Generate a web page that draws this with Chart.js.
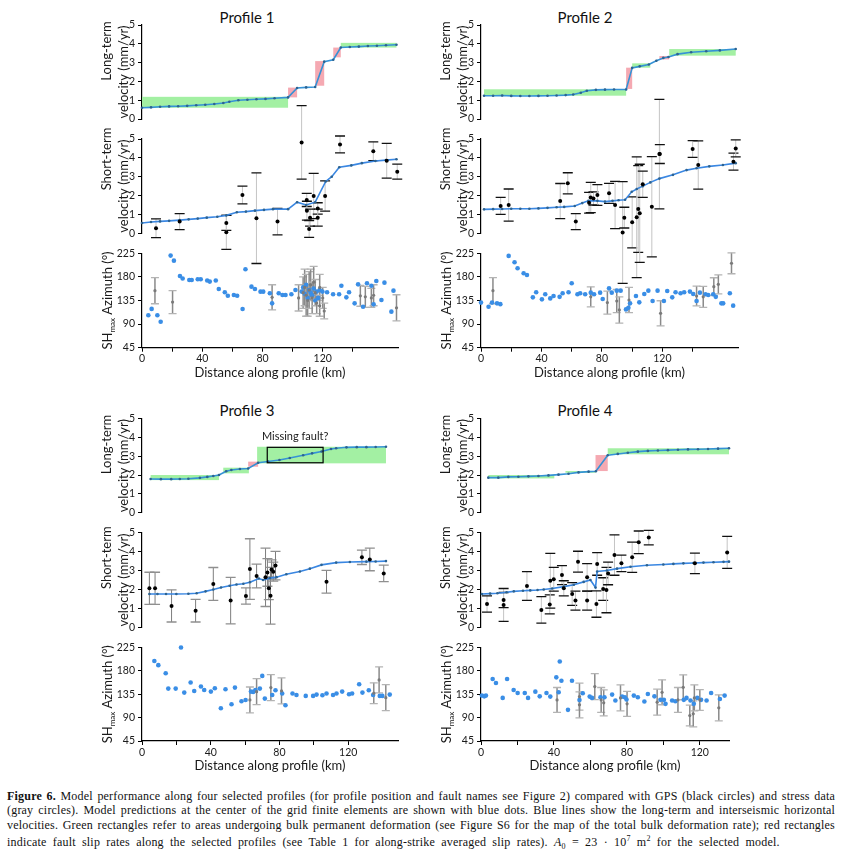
<!DOCTYPE html>
<html>
<head>
<meta charset="utf-8">
<script src="https://cdn.jsdelivr.net/npm/chart.js@4.4.0/dist/chart.umd.min.js"></script>
<style>
    body {
        margin: 0;
        background: #fff;
        width: 841px;
        height: 855px;
        position: relative;
        overflow: hidden;
        font-family: Lato, sans-serif;
    }

    canvas {
        position: absolute;
    }

    .titulo {
        position: absolute;
        width: 160px;
        text-align: center;
        font-size: 15px;
        line-height: 18px;
        color: #111;
    }

    .legenda {
        position: absolute;
        left: 7px;
        top: 789px;
        width: 828px;
        font-family: "Liberation Serif", serif;
        font-size: 12px;
        letter-spacing: 0.2px;
        line-height: 14.3px;
        color: #111;
    }

    .legenda .cheia {
        text-align: justify;
        text-align-last: justify;
    }

    .legenda .ultima {
        word-spacing: 3px;
    }
</style>
</head>
<body>

<div class="titulo" style="left:167px; top:8px">Profile 1</div>
<div class="titulo" style="left:505px; top:8px">Profile 2</div>
<div class="titulo" style="left:167px; top:401px">Profile 3</div>
<div class="titulo" style="left:505px; top:401px">Profile 4</div>

<div class="legenda">
    <div class="cheia"><b>Figure 6.</b> Model performance along four selected profiles (for profile position and fault names see Figure 2) compared with GPS (black circles) and stress data</div>
    <div class="cheia">(gray circles). Model predictions at the center of the grid finite elements are shown with blue dots. Blue lines show the long-term and interseismic horizontal</div>
    <div class="cheia">velocities. Green rectangles refer to areas undergoing bulk permanent deformation (see Figure S6 for the map of the total bulk deformation rate); red rectangles</div>
    <div class="ultima">indicate fault slip rates along the selected profiles (see Table 1 for along-strike averaged slip rates). <i>A</i><sub style="font-size:8px">0</sub> = 23 · 10<sup style="font-size:8px">7</sup> m<sup style="font-size:8px">2</sup> for the selected model.</div>
</div>

<script>
// ---- Profile 1 ----
const p1_lt = [[0,0.6],[6,0.62],[12,0.65],[18,0.67],[24,0.68],[30,0.7],[36,0.73],[42,0.76],[48,0.8],[54,0.85],[58,0.92],[64,1.0],[70,1.02],[76,1.05],[82,1.07],[88,1.1],[97,1.15],[103,1.65],[109,1.68],[115,1.7],[121,3.05],[127,3.15],[132,3.8],[138,3.83],[144,3.85],[150,3.88],[156,3.9],[162,3.92],[169,3.95]]
const p1_verdes = [[0,97,0.6,1.18],[132,169,3.8,4.05]]
const p1_vermelhos = [[97,103,1.15,1.67],[115,121,1.77,3.08],[127,132,3.28,3.8]]
const p1_st = [[0,0.55],[6,0.6],[12,0.63],[18,0.66],[25,0.7],[31,0.74],[37,0.78],[43,0.83],[50,0.88],[56,0.95],[63,1.12],[69,1.15],[75,1.2],[81,1.24],[87,1.28],[97,1.28],[103,1.65],[109,1.5],[115,1.65],[122,2.75],[126,3.0],[131,3.5],[139,3.6],[146,3.72],[155,3.83],[162,3.88],[169,3.93]]
const p1_gps = [[9.3,0.27,0.5],[25,0.62,0.42],[56,0.55,0.4],[56,0.05,0.9],[66.7,2.03,0.47],[76,0.8,2.4],[90,0.62,0.7],[106,4.82,1.95],[109.4,1.77,0.35],[109.5,1.2,0.5],[111.6,0.83,0.45],[111,0.23,0.45],[114,1.98,1.2],[116.7,1.32,0.3],[116.7,0.83,0.45],[121.6,1.98,0.8],[131.5,4.71,0.45],[153.6,4.35,0.5],[162.5,3.85,0.92],[169.5,3.27,0.4]]
const p1_modelo_sh = [[4.2,107],[6.4,119],[10.2,107],[12.4,94.6],[19,220.6],[21.2,211],[25.2,181.8],[27,177],[31.4,174],[33,174],[37,175.4],[39,175.4],[43.3,173],[45,171],[49,173],[51,157],[55,150.6],[57,144],[61,145.5],[63.2,144],[66.8,118.8],[68.7,194.5],[72.7,161.4],[75,157],[78.7,151.9],[80.5,151.9],[84.9,148.7],[86.4,129.6],[90.8,148.7],[93.3,145.5],[95.3,145.5],[99.2,146.8],[101.9,155],[106,152],[107,160],[108,148],[109,165],[110,140],[111,155],[112,150],[113,145],[114,158],[115,135],[116,152],[117,140],[118,155],[119.8,152],[122.9,150.6],[126.9,146.8],[130.9,146.8],[132.4,163],[135.7,141],[137.5,150.6],[141.2,129.6],[143.5,165.8],[146.8,123],[149.4,167.8],[152.3,163],[153.8,127.7],[155.6,172.2],[159,136],[161,169],[165.6,113.7],[167,153.8]]
const p1_tensao = [[8.6,153.8,25],[20.3,132,22],[86.4,141,24],[104,140,25],[107,150,30],[108,160,35],[109,145,40],[110,135,30],[111,155,35],[112,165,30],[113,140,30],[114,170,30],[115,150,25],[116,130,20],[118,160,25],[118,125,20],[120,140,20],[121,115,15],[145,144,20],[148.3,142,20],[152.3,140,18],[153.8,145,20],[169,121,25]]

// ---- Profile 2 ----
const p2_lt = [[2,1.24],[8,1.24],[14,1.25],[20,1.23],[26,1.22],[32,1.22],[38,1.23],[44,1.24],[50,1.25],[56,1.27],[61,1.3],[66,1.4],[70,1.5],[76,1.55],[82,1.56],[88,1.57],[96,1.57],[100,2.72],[105,2.8],[111,2.9],[116,3.1],[120.6,3.25],[124,3.3],[130,3.45],[139,3.55],[149,3.6],[158,3.65],[168.5,3.72]]
const p2_verdes = [[2,96,1.24,1.58],[100,112,2.73,2.96],[124.5,168.5,3.37,3.72]]
const p2_vermelhos = [[96,100,1.6,2.73],[118,124.5,3.17,3.35]]
const p2_st = [[2,1.27],[8,1.28],[14,1.29],[20,1.3],[26,1.3],[32,1.3],[38,1.32],[44,1.35],[50,1.38],[55,1.4],[62,1.45],[67,1.6],[71,1.72],[77,1.72],[82,1.68],[87,1.72],[91,1.75],[95.3,1.78],[99.7,2.2],[103,2.35],[107,2.5],[112,2.7],[118,2.9],[127,3.1],[136,3.35],[142.6,3.45],[151,3.55],[160,3.62],[168.5,3.72]]
const p2_gps = [[13,1.45,0.45],[18.3,1.5,0.85],[52.4,1.71,0.93],[57.4,2.65,0.56],[62.7,0.62,0.42],[71.5,1.62,0.55],[72.6,1.9,0.8],[74.4,1.85,0.35],[77,2.03,0.55],[84.7,2.12,0.53],[88.7,1.5,1.25],[93.7,0.04,2.7],[94.8,0.83,0.55],[100,0.58,1.35],[103,0.85,3.2],[104,1.29,2.3],[105,1.06,2.6],[107,2.6,0.7],[113,1.41,2.66],[118,4.2,2.9],[118.3,4.2,0.5],[140,4.47,0.44],[143.7,3.62,1.28],[167,3.8,0.45],[168.5,4.5,0.45]]
const p2_modelo_sh = [[0,131],[5,123],[7.3,131],[10.6,129.6],[12.8,128],[18.3,220],[22.2,208],[24.2,196.4],[28.2,186.9],[30.4,183.7],[34.3,141],[36.5,150.6],[40.3,137.2],[42.5,146.8],[45.8,139],[48,143.6],[52,142],[54,148.7],[57.9,150.6],[60,167.8],[63.8,146.8],[65.6,148.7],[68.9,146.8],[72.6,150],[74.8,146.8],[78.8,150],[80.5,137.9],[84.7,158.2],[86.5,150],[89.8,153.8],[92.4,153.8],[95.9,118],[97.5,121.3],[98.6,129.6],[102.5,143.6],[104.7,131.5],[108,147.4],[110.7,153.8],[113.5,134],[116.8,153.8],[121,134],[123.2,153],[126.5,141],[128.7,150.6],[132,148.7],[134.4,150.6],[138.2,152],[140.4,147.4],[142.6,134],[144.8,150],[148.5,146.8],[150.3,145.5],[153.6,146.8],[155.3,142],[159,129.6],[160.2,129.6],[164.6,148.7],[166.8,125.2]]
const p2_tensao = [[7.9,153.8,25],[72.6,142,19],[83.6,131,22],[89.8,134,22],[91.5,117,25],[97.9,136,24],[118.8,110.5,24],[142.6,143.6,19],[147,142,20],[154,161.4,17],[157,165.8,18],[165.7,206,20]]

// ---- Profile 3 ----
const p3_lt = [[5,1.79],[11,1.78],[17,1.78],[22,1.79],[27,1.8],[33.7,1.85],[38,1.9],[41.5,1.95],[44.8,2.0],[49,2.2],[52,2.27],[57,2.32],[61.8,2.35],[67.6,2.65],[73.4,2.72],[80,2.8],[86,2.9],[93.8,3.05],[99,3.15],[104.5,3.25],[110,3.38],[113,3.42],[119,3.47],[125,3.48],[130.6,3.48],[136,3.49],[142,3.5]]
const p3_verdes = [[5,44.8,1.73,2.0],[47.3,62.2,2.09,2.39],[67,142,2.62,3.5]]
const p3_vermelhos = [[61.8,67.6,2.44,2.71]]
const p3_caixa = [72.9,105.4,2.65,3.47]
const p3_st = [[4.3,1.76],[9,1.76],[14,1.76],[20,1.76],[27,1.77],[31.8,1.8],[37,1.9],[41.5,2.0],[46,2.1],[51,2.2],[55,2.26],[59,2.3],[62.8,2.38],[68,2.58],[70.5,2.5],[74.4,2.6],[78.3,2.65],[84,2.8],[91.9,2.95],[97.7,3.1],[104.5,3.3],[113,3.42],[121,3.45],[130.6,3.47],[136,3.48],[142,3.5]]
const p3_gps = [[4.3,2.06,0.85],[7.6,2.06,0.85],[17.2,1.13,0.85],[31.2,0.88,0.6],[41.5,2.29,0.87],[51.6,1.41,1.23],[60.5,1.65,0.43],[62.8,3.08,1.6],[66.7,2.71,0.63],[71.9,2.64,1.54],[73,2.9,0.73],[73.8,2.06,0.6],[74.8,1.67,1.5],[75.4,3.06,0.5],[76.4,2.94,0.5],[77.7,3.26,0.75],[107.4,2.41,0.6],[128,3.7,0.38],[132.6,3.59,0.6],[140.7,2.85,0.44]]
const p3_modelo_sh = [[7.2,199],[9.5,191],[13.8,175.5],[15.3,145.9],[19.6,145.9],[22.7,225],[24.6,138.2],[28.3,157.5],[30.4,141.4],[34.3,149.8],[36.2,143.3],[40.1,140.1],[42.4,146.5],[45.9,108],[48.6,144.6],[52.1,115.7],[54.1,147.8],[57.9,121.5],[60.3,124],[63.4,140.1],[64.7,139.5],[66,143.3],[68.6,145.9],[70,170.3],[71.5,126.6],[75.8,133.7],[77.7,142.7],[81.6,136.3],[83.5,113.8],[87.6,136.3],[89.9,133.7],[95.3,131.8],[99.6,131.8],[101.6,134.3],[105,133],[107.4,136.3],[111.2,133.7],[113.2,136.3],[116.5,140.1],[120.5,135],[122.3,136.3],[126.4,154.2],[128.3,138.2],[132,142.7],[134.5,133.7],[138.4,131.8],[139.9,131.8],[144.2,134.3]]
const p3_tensao = [[62.8,124,25],[66.7,140,25],[75,147.8,25],[81.2,141.4,25],[134.9,137,20],[138,162.6,25],[141.9,128.5,25]]

// ---- Profile 4 ----
const p4_lt = [[4,1.86],[9.5,1.86],[15,1.9],[20.5,1.91],[26,1.93],[31.5,1.95],[37,1.98],[42.5,2.02],[48,2.07],[53.5,2.14],[59,2.18],[63,2.2],[69.5,3.05],[75,3.12],[80.5,3.18],[86,3.24],[91.5,3.28],[97,3.3],[102.5,3.32],[108,3.34],[113.5,3.36],[119,3.37],[124.5,3.38],[130,3.4],[136,3.42]]
const p4_verdes = [[4,40.2,1.82,2.0],[46.3,62.8,2.12,2.21],[69.5,136,3.1,3.42]]
const p4_vermelhos = [[62.8,69.5,2.21,3.06]]
const p4_st = [[0.5,1.76],[5,1.78],[9,1.8],[14,1.85],[18,1.9],[23,1.93],[27,1.95],[31,1.97],[34.4,2.0],[39,2.05],[45.4,2.15],[50.9,2.25],[56.3,2.4],[60,2.5],[62.8,2.1],[63.7,2.95],[69,3.0],[74.6,3.1],[82,3.2],[91,3.28],[100,3.32],[105.5,3.35],[111,3.38],[116.5,3.4],[122,3.42],[127.5,3.44],[133,3.46],[136,3.47]]
const p4_gps = [[3.3,1.23,0.43],[12.4,1.18,0.87],[12.4,1.44,0.4],[25.2,2.18,0.76],[33.1,0.92,0.7],[37.7,1.21,0.5],[38,2.46,1.45],[39.9,2.54,0.63],[44.4,2.76,0.5],[45.4,2.06,0.4],[50,1.76,0.6],[51.8,1.41,0.5],[53.2,3.47,0.55],[58.2,2.64,0.73],[58.2,1.41,0.5],[63.3,1.23,0.7],[63.7,3.35,0.6],[67,2.02,0.6],[68.8,1.97,1.2],[69.7,2.85,0.6],[73.2,3.82,1.07],[77,3.38,0.44],[82.9,3.7,0.8],[86.5,4.49,0.6],[92,4.74,0.38],[117.3,3.38,0.54],[135,3.96,0.85]]
const p4_modelo_sh = [[0.5,132.4],[1.8,131],[2.7,132.4],[6.4,164.3],[8.2,156.7],[11.9,128],[14.3,164.3],[17.9,143.3],[20.1,137.5],[24,137.5],[25.8,128],[29.8,140],[32.2,131],[35.9,137.5],[38,130.5],[41.3,167.5],[42.6,138.8],[43.2,198],[44.1,161.1],[47.7,105],[49.9,161.1],[54,124],[55.8,137],[59.6,130.5],[60.9,128],[65.5,129.2],[67.7,129.2],[71.9,134.3],[73.7,122.9],[77.4,130.5],[78.9,129.2],[79.8,124.8],[83.8,132.4],[86,129.2],[89.6,121],[91.5,135.6],[95.1,131],[98.4,124.2],[100.3,124.2],[101.2,116.5],[104.8,122.9],[106.6,121.6],[111.2,124.2],[112.7,128],[114.9,122.9],[116.7,116.5],[118.6,128],[120.7,124.2],[123.7,122.9],[126.2,137.5],[131,126],[133.6,132.4]]
const p4_tensao = [[41.7,124,24],[54,130.5,26],[54,114.6,25],[62.4,149.7,25],[65.9,124,24],[67.3,118.4,25],[76.5,128,25],[80.1,116.5,24],[96.6,119.7,25],[99.3,138.8,24],[108,124,24],[110.9,148.4,24],[114.5,94,20],[116.4,97.3,25],[117,128,25],[120,124,20],[130.4,108.8,25]]

// ticks [min, max, step]
const ticksVelocidade = [0, 5, 1]
const ticksAzimute = [45, 225, 45]

Chart.defaults.font.family = 'Lato, sans-serif'
Chart.defaults.color = '#1a1a1a'

const pluginPainel = {
    id: 'painel',
    beforeDatasetsDraw(chart, args, op) {
        const ctx = chart.ctx
        const sx = chart.scales.x
        const sy = chart.scales.y
        function retangulo(r, cor) {
            const xa = sx.getPixelForValue(r[0])
            const xb = sx.getPixelForValue(r[1])
            const ya = sy.getPixelForValue(r[2])
            const yb = sy.getPixelForValue(r[3])
            ctx.fillStyle = cor
            ctx.fillRect(xa, yb, xb - xa, ya - yb)
        }
        ctx.save()
        const verdes = op.verdes || []
        const vermelhos = op.vermelhos || []
        verdes.forEach(r => retangulo(r, '#a3f0a3'))
        vermelhos.forEach(r => retangulo(r, '#f5a9b2'))

        chart.data.datasets.forEach(ds => {
            if (!ds.erros) return
            ds.data.forEach((p, i) => {
                const e = ds.erros[i]
                const x = sx.getPixelForValue(p.x)
                const ya = sy.getPixelForValue(p.y + e)
                const yb = sy.getPixelForValue(p.y - e)
                ctx.strokeStyle = ds.corBarra
                ctx.lineWidth = ds.larguraBarra
                ctx.beginPath()
                ctx.moveTo(x, ya)
                ctx.lineTo(x, yb)
                ctx.stroke()
                ctx.strokeStyle = ds.corTampa
                ctx.lineWidth = 1.3
                ctx.beginPath()
                ctx.moveTo(x - ds.tampa, ya)
                ctx.lineTo(x + ds.tampa, ya)
                ctx.moveTo(x - ds.tampa, yb)
                ctx.lineTo(x + ds.tampa, yb)
                ctx.stroke()
            })
        })
        ctx.restore()
    },
    afterDatasetsDraw(chart, args, op) {
        if (!op.caixa) return
        const ctx = chart.ctx
        const sx = chart.scales.x
        const sy = chart.scales.y
        const c = op.caixa
        const xa = sx.getPixelForValue(c[0])
        const xb = sx.getPixelForValue(c[1])
        const ya = sy.getPixelForValue(c[2])
        const yb = sy.getPixelForValue(c[3])
        ctx.save()
        ctx.strokeStyle = '#000'
        ctx.lineWidth = 1.2
        ctx.strokeRect(xa, yb, xb - xa, ya - yb)
        ctx.fillStyle = '#1a1a1a'
        ctx.font = '11px Lato'
        ctx.textAlign = 'center'
        ctx.textBaseline = 'middle'
        ctx.fillText(op.texto, (xa + xb) / 2, yb - 11)
        ctx.restore()
    },
    afterDraw(chart, args, op) {
        const ctx = chart.ctx
        const area = chart.chartArea
        const titulos = op.titulos || []
        titulos.forEach(t => {
            const x = area.left + t.dx
            const y = t.dy == null ? (area.top + area.bottom) / 2 : area.top + t.dy
            ctx.save()
            ctx.translate(x, y)
            ctx.rotate(-Math.PI / 2)
            ctx.fillStyle = '#1a1a1a'
            ctx.textBaseline = 'middle'
            if (t.sh) {
                ctx.font = '13px Lato'
                const w1 = ctx.measureText('SH').width
                const w3 = ctx.measureText(' Azimuth (°)').width
                ctx.font = '8px Lato'
                const w2 = ctx.measureText('max').width
                let pos = -(w1 + w2 + w3) / 2
                ctx.textAlign = 'left'
                ctx.font = '13px Lato'
                ctx.fillText('SH', pos, 0)
                pos += w1
                ctx.font = '8px Lato'
                ctx.fillText('max', pos, 4)
                pos += w2
                ctx.font = '13px Lato'
                ctx.fillText(' Azimuth (°)', pos, 0)
            } else {
                ctx.font = '13px Lato'
                ctx.textAlign = 'center'
                ctx.fillText(t.texto, 0, 0)
            }
            ctx.restore()
        })
    }
}

function eixoY(t, largura) {
    return {
        min: t[0],
        max: t[1],
        ticks: { stepSize: t[2], autoSkip: false, font: { size: 10.5 }, padding: 3, color: '#1a1a1a' },
        grid: { drawOnChartArea: false, tickLength: 4, color: '#000' },
        border: { color: '#000', width: 1.2 },
        afterFit: function (s) { s.width = largura }
    }
}

function eixoX(max, mostrar) {
    return {
        type: 'linear',
        min: 0,
        max: max,
        display: mostrar,
        afterBuildTicks: function (s) { s.ticks = s.ticks.filter(t => t.value % 20 === 0) },
        ticks: { stepSize: 20, autoSkip: false, maxRotation: 0, font: { size: 10.5 }, padding: 1, color: '#1a1a1a',
            callback: v => v % 40 === 0 ? v : '' },
        grid: { drawOnChartArea: false, tickLength: 4, color: '#000' },
        border: { color: '#000', width: 1.2 },
        title: { display: true, text: 'Distance along profile (km)', font: { size: 13 }, padding: 0, color: '#1a1a1a' },
        afterFit: function (s) { s.height = mostrar ? 33 : 0 }
    }
}

function pontos(lista) {
    return lista.map(p => ({ x: p[0], y: p[1] }))
}

function criarPainel(p) {
    const canvas = document.createElement('canvas')
    canvas.width = p.w
    canvas.height = p.h
    canvas.style.left = p.left + 'px'
    canvas.style.top = p.top + 'px'
    document.body.appendChild(canvas)

    new Chart(canvas, {
        type: 'scatter',
        data: { datasets: p.datasets },
        options: {
            responsive: false,
            animation: false,
            events: [],
            layout: { padding: { left: 0, right: p.padRight, top: p.padTop, bottom: p.padBottom } },
            plugins: {
                legend: { display: false },
                tooltip: { enabled: false },
                painel: p.extras
            },
            scales: {
                x: eixoX(p.xmax, p.eixoX),
                y: eixoY(p.ticks, p.larguraY)
            }
        },
        plugins: [pluginPainel]
    })
}

function linhaModelo(lista, cor) {
    return {
        data: pontos(lista),
        showLine: true,
        borderColor: cor,
        borderWidth: 1.6,
        pointRadius: 1.3,
        pointBackgroundColor: '#2d6390',
        pointBorderWidth: 0,
        tension: 0,
        clip: false
    }
}

function dadosGps(lista, corBarra, corTampa) {
    return {
        data: pontos(lista),
        erros: lista.map(p => p[2]),
        corBarra: corBarra,
        corTampa: corTampa,
        larguraBarra: 1,
        tampa: 5,
        pointRadius: 2,
        pointBackgroundColor: '#000',
        pointBorderWidth: 0,
        clip: false
    }
}

function dadosTensao(lista) {
    return {
        data: pontos(lista),
        erros: lista.map(p => p[2]),
        corBarra: '#8a8a8a',
        corTampa: '#b4b4b4',
        larguraBarra: 1.5,
        tampa: 4,
        pointRadius: 1.6,
        pointBackgroundColor: '#7a7a7a',
        pointBorderWidth: 0,
        clip: false
    }
}

function modeloSh(lista) {
    return {
        data: pontos(lista),
        pointRadius: 2.3,
        pointBackgroundColor: '#3a8ee6',
        pointBorderWidth: 0,
        clip: false
    }
}

// one profile = 3 panels stacked
function criarPerfil(cfg) {
    const H = 390
    const base = { left: cfg.left, top: cfg.top, w: 330, h: H, larguraY: cfg.larguraY, xmax: cfg.xmax, padRight: cfg.padRight }
    const a = cfg.areas

    criarPainel(Object.assign({}, base, {
        padTop: a[0][0] - cfg.top, padBottom: cfg.top + H - a[0][1], eixoX: false, ticks: ticksVelocidade,
        datasets: [linhaModelo(cfg.lt, '#3592d6')],
        extras: { verdes: cfg.verdes, vermelhos: cfg.vermelhos, caixa: cfg.caixa, texto: 'Missing fault?',
            titulos: [{ texto: 'Long-term', dx: -35, dy: 26 }, { texto: 'velocity (mm/yr)', dx: -18 }] }
    }))

    criarPainel(Object.assign({}, base, {
        padTop: a[2][0] - cfg.top, padBottom: cfg.top + H - a[2][1] - 33, eixoX: true, ticks: ticksAzimute,
        datasets: [dadosTensao(cfg.tensao), modeloSh(cfg.modeloSh)],
        extras: { titulos: [{ texto: '', sh: true, dx: -34 }] }
    }))

    criarPainel(Object.assign({}, base, {
        padTop: a[1][0] - cfg.top, padBottom: cfg.top + H - a[1][1], eixoX: false, ticks: ticksVelocidade,
        datasets: [dadosGps(cfg.gps, cfg.corBarra, cfg.corTampa), linhaModelo(cfg.st, '#3a87e2')],
        extras: { titulos: [{ texto: 'Short-term', dx: -35, dy: cfg.dyCurto }, { texto: 'velocity (mm/yr)', dx: -18 }] }
    }))
}

criarPerfil({ left: 85, top: 0, larguraY: 57, xmax: 170, padRight: 17,
    areas: [[25, 119], [139, 233.3], [253.3, 347.7]], dyCurto: 20,
    lt: p1_lt, verdes: p1_verdes, vermelhos: p1_vermelhos, st: p1_st, gps: p1_gps,
    modeloSh: p1_modelo_sh, tensao: p1_tensao, corBarra: '#c4c4c4', corTampa: '#111' })

criarPerfil({ left: 425, top: 0, larguraY: 56, xmax: 170, padRight: 17,
    areas: [[25, 119], [139, 233.3], [253.3, 347.7]], dyCurto: 20,
    lt: p2_lt, verdes: p2_verdes, vermelhos: p2_vermelhos, st: p2_st, gps: p2_gps,
    modeloSh: p2_modelo_sh, tensao: p2_tensao, corBarra: '#c4c4c4', corTampa: '#111' })

criarPerfil({ left: 85, top: 395, larguraY: 57, xmax: 149, padRight: 17,
    areas: [[418.5, 512.7], [532.7, 627.3], [647.5, 741]], dyCurto: 25,
    lt: p3_lt, verdes: p3_verdes, vermelhos: p3_vermelhos, caixa: p3_caixa, st: p3_st, gps: p3_gps,
    modeloSh: p3_modelo_sh, tensao: p3_tensao, corBarra: '#7d7d7d', corTampa: '#8f8f8f' })

criarPerfil({ left: 425, top: 395, larguraY: 56, xmax: 136, padRight: 26,
    areas: [[418.5, 512.7], [532.7, 627.3], [647.5, 741]], dyCurto: 25,
    lt: p4_lt, verdes: p4_verdes, vermelhos: p4_vermelhos, st: p4_st, gps: p4_gps,
    modeloSh: p4_modelo_sh, tensao: p4_tensao, corBarra: '#c4c4c4', corTampa: '#111' })
</script>
</body>
</html>
